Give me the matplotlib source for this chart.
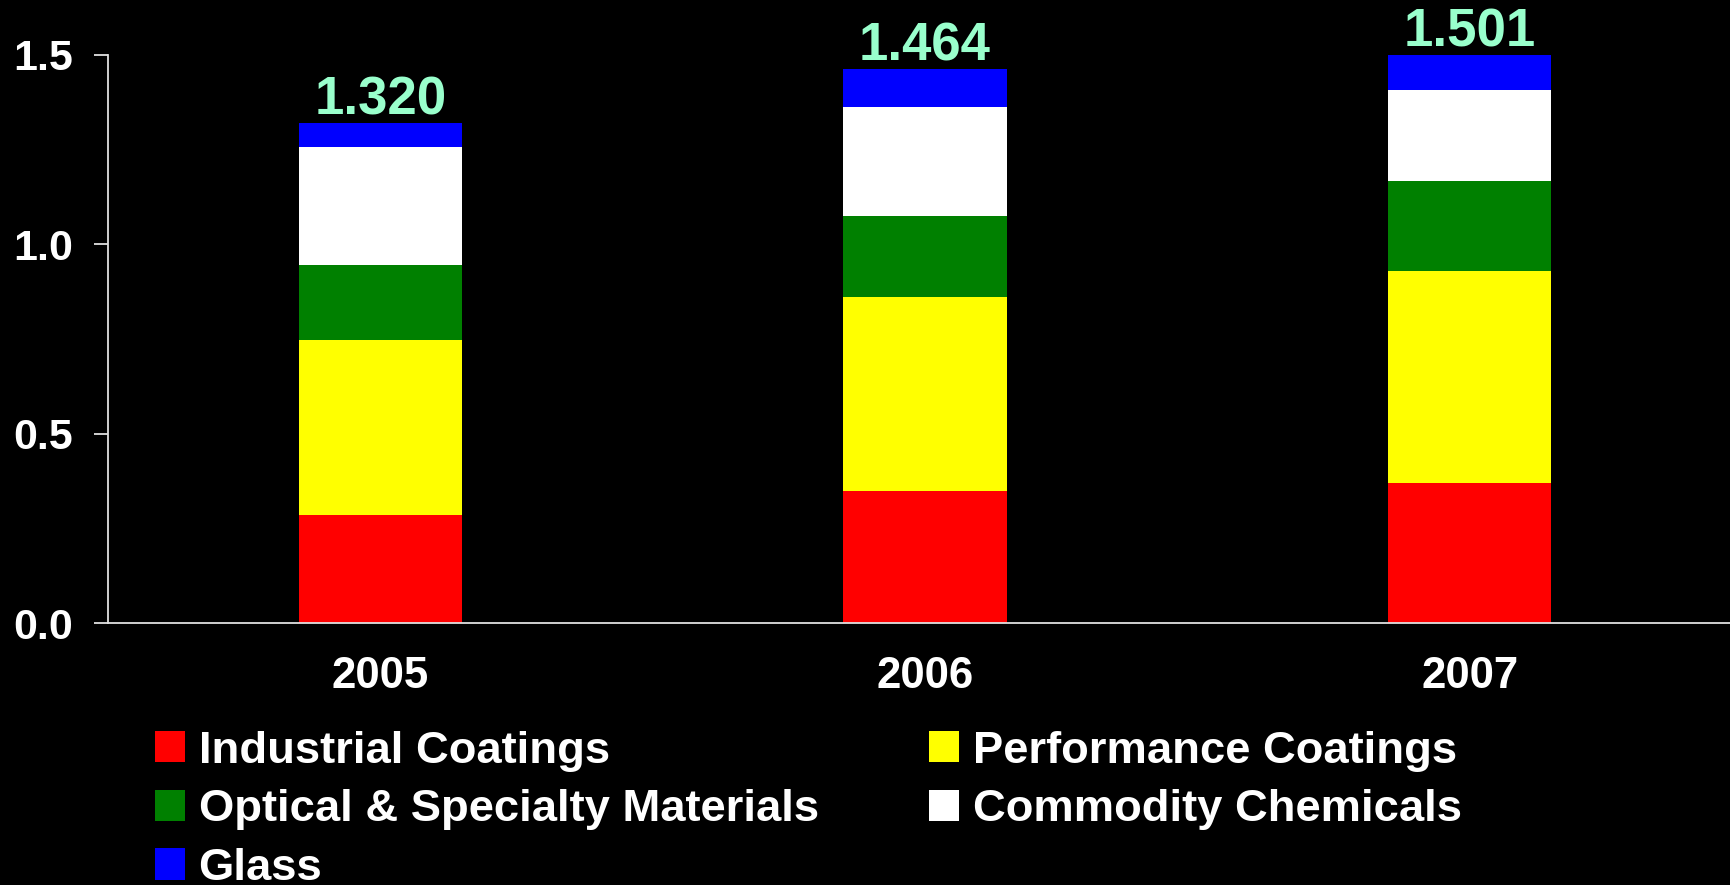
import matplotlib

matplotlib.use("Agg")
import matplotlib.pyplot as plt  # noqa: E402
import numpy as np  # noqa: E402
from matplotlib.patches import Patch  # noqa: E402

# --- data ---
years = ["2005", "2006", "2007"]
industrial = [0.286, 0.349, 0.370]
performance = [0.460, 0.511, 0.559]
optical = [0.198, 0.214, 0.238]
commodity = [0.313, 0.288, 0.240]
glass = [0.063, 0.102, 0.094]
totals = ["1.320", "1.464", "1.501"]

segments = [
    ("Industrial Coatings", industrial, "#ff0000"),
    ("Performance Coatings", performance, "#ffff00"),
    ("Optical & Specialty Materials", optical, "#008000"),
    ("Commodity Chemicals", commodity, "#ffffff"),
    ("Glass", glass, "#0000ff"),
]

plt.rcParams["font.family"] = ["Liberation Sans", "DejaVu Sans"]
plt.rcParams["font.weight"] = "bold"

fig = plt.figure(figsize=(17.31, 8.85), dpi=100, facecolor="black")
ax = fig.add_axes([0.0624, 0.296, 0.9376, 0.642], facecolor="black")

x = np.arange(len(years))
bottom = np.zeros(len(years))
for name, vals, col in segments:
    ax.bar(x, vals, width=0.3, bottom=bottom, color=col, linewidth=0, label=name)
    bottom += np.array(vals)

for xi, top, lab in zip(x, bottom, totals):
    ax.annotate(lab, (xi, top), xytext=(0, 6), textcoords="offset points",
                ha="center", va="baseline", color="#99ffcc", fontsize=38,
                fontweight="bold", annotation_clip=False)

ax.set_xlim(-0.5, 2.48)
ax.set_ylim(0, 1.5)
ax.set_yticks([0.0, 0.5, 1.0, 1.5])
ax.set_yticklabels(["0.0", "0.5", "1.0", "1.5"])
ax.set_xticks(x)
ax.set_xticklabels(years)

for side in ("top", "right"):
    ax.spines[side].set_visible(False)
for side in ("left", "bottom"):
    ax.spines[side].set_color("#e0e0e0")
    ax.spines[side].set_linewidth(1.3)

ax.tick_params(axis="y", colors="#e0e0e0", labelcolor="white", labelsize=31,
               length=10, width=1.3, pad=15)
ax.tick_params(axis="x", labelcolor="white", labelsize=31.5, length=0, pad=24)

# legend fills column-first, so reorder to read row by row
handles = [Patch(facecolor=c, edgecolor="none", label=n) for n, _, c in segments]
order = [0, 2, 4, 1, 3]
leg = fig.legend([handles[i] for i in order], [handles[i].get_label() for i in order],
                 loc="upper left", bbox_to_anchor=(0.0895, 0.1745), ncol=2,
                 frameon=False, fontsize=32.7, handlelength=0.66, handleheight=0.68,
                 handletextpad=0.3, labelspacing=0.39, columnspacing=2.44,
                 borderpad=0, borderaxespad=0)
for t in leg.get_texts():
    t.set_color("white")
    t.set_fontweight("bold")

fig.savefig("out.png", dpi=100, facecolor="black")
